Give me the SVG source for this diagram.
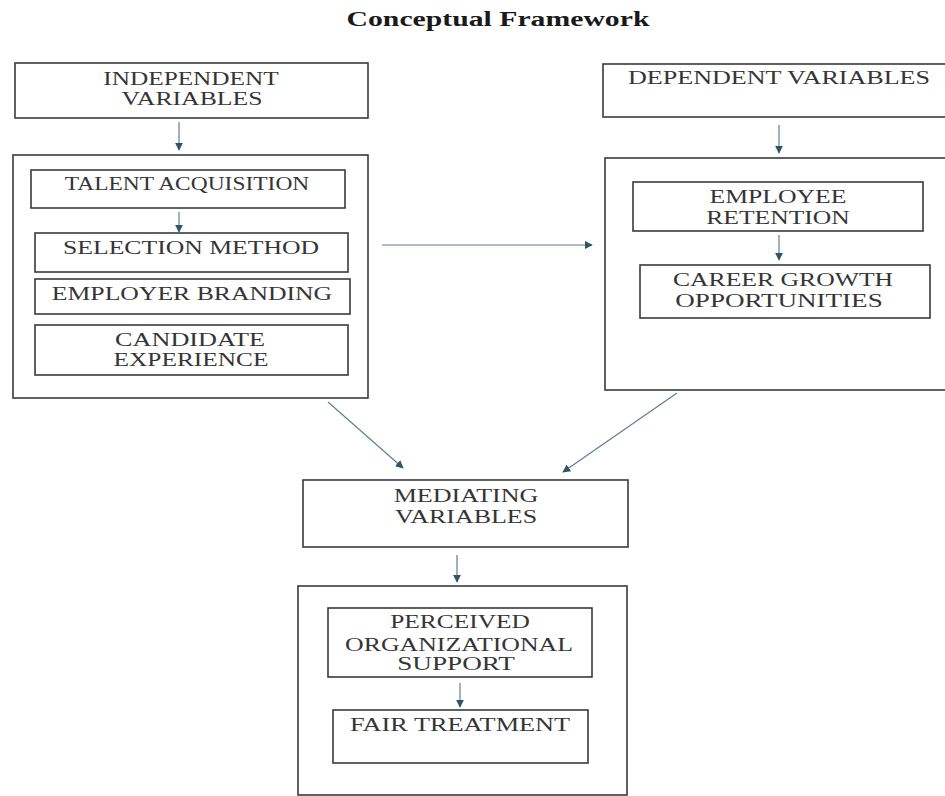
<svg xmlns="http://www.w3.org/2000/svg" width="945" height="796" viewBox="0 0 945 796">
<defs>
<style>
.box{fill:#fff;stroke:#3a3a3a;stroke-width:1.6}
.t{font-family:"Liberation Serif","Times New Roman",serif;font-size:18px;fill:#353535;text-anchor:middle}
.title{font-family:"Liberation Serif","Times New Roman",serif;font-size:20px;font-weight:bold;fill:#1a1a1a;text-anchor:middle}
.c{stroke:#5f7d90;stroke-width:1.2;fill:none;marker-end:url(#ah)}
</style>
<marker id="ah" viewBox="0 0 10 10" refX="9" refY="5" markerWidth="8" markerHeight="8" markerUnits="userSpaceOnUse" orient="auto">
<path d="M0,0 L10,5 L0,10 z" fill="#2d5468"/>
</marker>
</defs>
<rect width="945" height="796" fill="#fff"/>
<text class="title" transform="translate(498,26) scale(1.3,1)" textLength="233" lengthAdjust="spacingAndGlyphs">Conceptual Framework</text>

<g id="independent">
<rect class="box" x="15" y="63" width="353" height="55"/>
<text class="t" transform="translate(191,85) scale(1.28,1)" textLength="137" lengthAdjust="spacingAndGlyphs">INDEPENDENT</text>
<text class="t" transform="translate(192,105) scale(1.28,1)" textLength="110" lengthAdjust="spacingAndGlyphs">VARIABLES</text>
</g>
<g id="independent-group">
<rect class="box" x="13" y="155" width="355" height="243"/>
</g>
<g id="talent-acquisition">
<rect class="box" x="31" y="170" width="314" height="38"/>
<text class="t" transform="translate(187,190) scale(1.28,1)" textLength="191" lengthAdjust="spacingAndGlyphs">TALENT ACQUISITION</text>
</g>
<g id="selection-method">
<rect class="box" x="35" y="233" width="313" height="39"/>
<text class="t" transform="translate(191,254) scale(1.28,1)" textLength="200" lengthAdjust="spacingAndGlyphs">SELECTION METHOD</text>
</g>
<g id="employer-branding">
<rect class="box" x="35" y="279" width="315" height="35"/>
<text class="t" transform="translate(192,300) scale(1.28,1)" textLength="219" lengthAdjust="spacingAndGlyphs">EMPLOYER BRANDING</text>
</g>
<g id="candidate-experience">
<rect class="box" x="35" y="325" width="313" height="50"/>
<text class="t" transform="translate(190,346) scale(1.28,1)" textLength="117" lengthAdjust="spacingAndGlyphs">CANDIDATE</text>
<text class="t" transform="translate(191,366) scale(1.28,1)" textLength="121" lengthAdjust="spacingAndGlyphs">EXPERIENCE</text>
</g>

<g id="dependent">
<rect class="box" x="603" y="64" width="360" height="53"/>
<text class="t" transform="translate(779,84) scale(1.28,1)" textLength="236" lengthAdjust="spacingAndGlyphs">DEPENDENT VARIABLES</text>
</g>
<g id="dependent-group">
<rect class="box" x="605" y="158" width="360" height="232"/>
</g>
<g id="employee-retention">
<rect class="box" x="633" y="182" width="290" height="49"/>
<text class="t" transform="translate(778,203) scale(1.28,1)" textLength="107" lengthAdjust="spacingAndGlyphs">EMPLOYEE</text>
<text class="t" transform="translate(778,224) scale(1.28,1)" textLength="112" lengthAdjust="spacingAndGlyphs">RETENTION</text>
</g>
<g id="career-growth">
<rect class="box" x="640" y="265" width="290" height="53"/>
<text class="t" transform="translate(783,286) scale(1.28,1)" textLength="172" lengthAdjust="spacingAndGlyphs">CAREER GROWTH</text>
<text class="t" transform="translate(779,307) scale(1.28,1)" textLength="162" lengthAdjust="spacingAndGlyphs">OPPORTUNITIES</text>
</g>

<g id="mediating">
<rect class="box" x="303" y="480" width="325" height="67"/>
<text class="t" transform="translate(466,502) scale(1.28,1)" textLength="113" lengthAdjust="spacingAndGlyphs">MEDIATING</text>
<text class="t" transform="translate(466,523) scale(1.28,1)" textLength="111" lengthAdjust="spacingAndGlyphs">VARIABLES</text>
</g>
<g id="mediating-group">
<rect class="box" x="298" y="586" width="329" height="209"/>
</g>
<g id="perceived-support">
<rect class="box" x="328" y="608" width="264" height="69"/>
<text class="t" transform="translate(460,628) scale(1.28,1)" textLength="109" lengthAdjust="spacingAndGlyphs">PERCEIVED</text>
<text class="t" transform="translate(459,651) scale(1.28,1)" textLength="178" lengthAdjust="spacingAndGlyphs">ORGANIZATIONAL</text>
<text class="t" transform="translate(456,670) scale(1.28,1)" textLength="92" lengthAdjust="spacingAndGlyphs">SUPPORT</text>
</g>
<g id="fair-treatment">
<rect class="box" x="333" y="710" width="255" height="53"/>
<text class="t" transform="translate(460,731) scale(1.28,1)" textLength="172" lengthAdjust="spacingAndGlyphs">FAIR TREATMENT</text>
</g>

<g id="connectors">
<line class="c" x1="179" y1="122" x2="179" y2="150"/>
<line class="c" x1="179" y1="212" x2="179" y2="232"/>
<line class="c" x1="779" y1="125" x2="779" y2="153"/>
<line class="c" x1="779" y1="235" x2="779" y2="260"/>
<line class="c" x1="382" y1="245" x2="592" y2="245"/>
<line class="c" x1="328" y1="402" x2="403" y2="468"/>
<line class="c" x1="677" y1="393" x2="563" y2="472"/>
<line class="c" x1="457" y1="555" x2="457" y2="582"/>
<line class="c" x1="460" y1="683" x2="460" y2="707"/>
</g>
</svg>
